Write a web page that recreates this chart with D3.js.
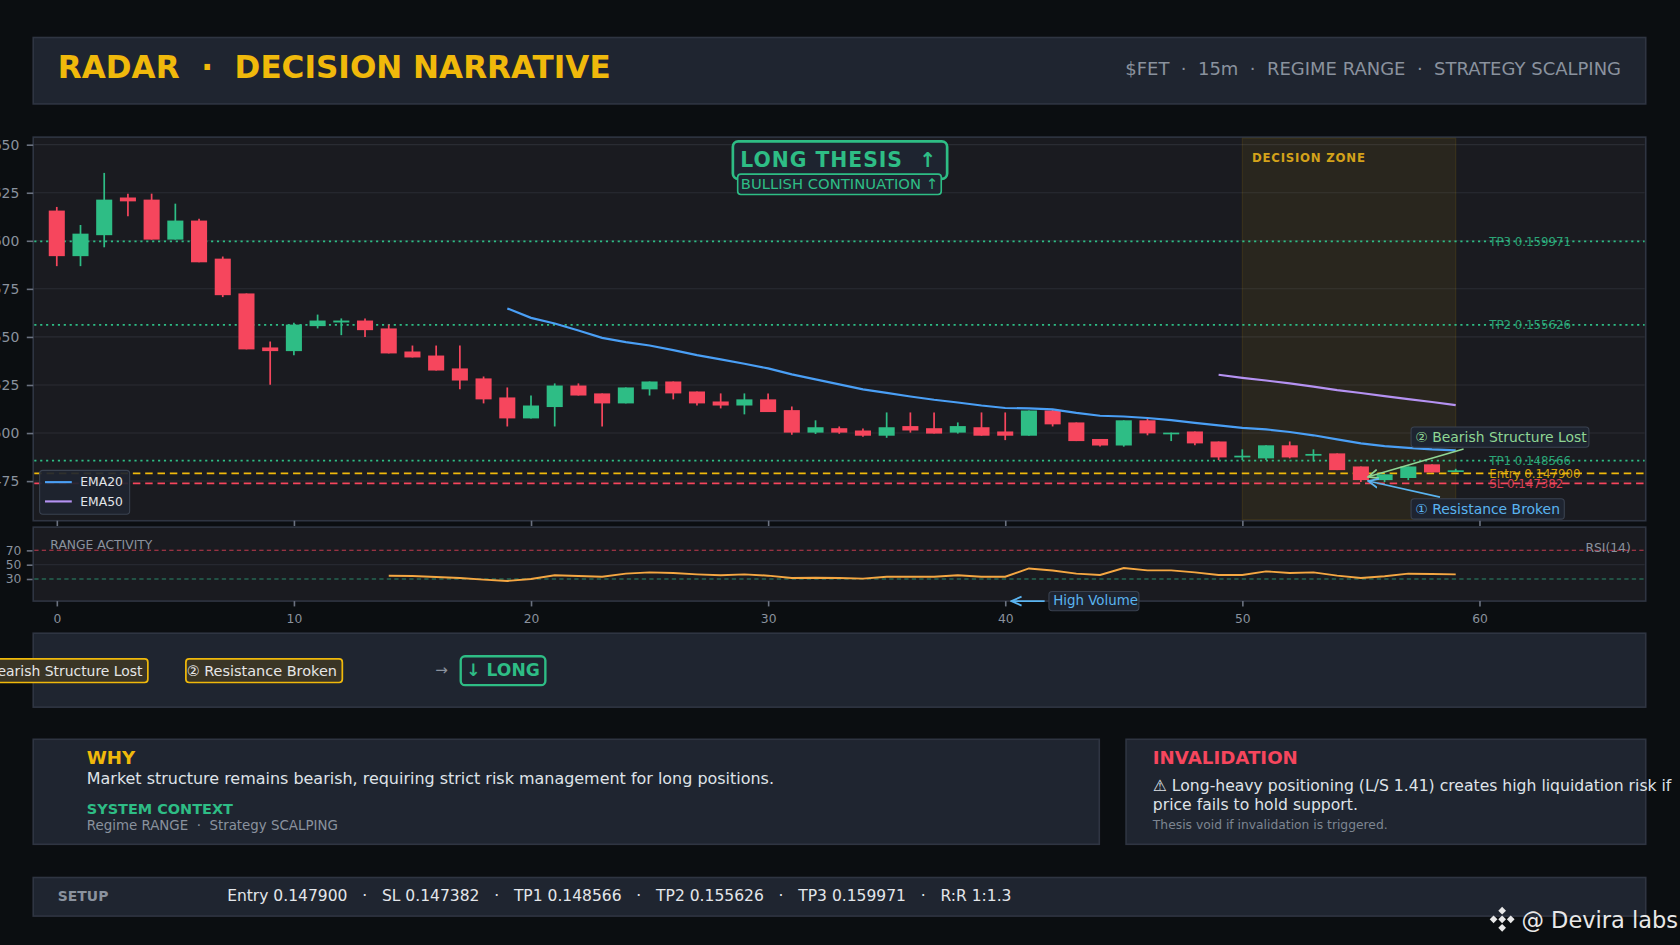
<!DOCTYPE html>
<html>
<head>
<meta charset="utf-8">
<script src="https://cdn.jsdelivr.net/npm/d3@7"></script>
<style>
html, body { margin: 0; padding: 0; background: #0b0e11; overflow: hidden; }
svg { display: block; font-family: "DejaVu Sans", sans-serif; }
text { white-space: pre; }
</style>
</head>
<body>
<svg id="chart" width="1680" height="945" viewBox="0 0 1568 882"></svg>
<script>
// Velas (indice 0..59)
const velaOpen  = [0.16157,0.15920,0.16029,0.16225,0.16214,0.16006,0.16105,0.15907,0.15726,0.15445,
                   0.15426,0.15556,0.15575,0.15585,0.15544,0.15424,0.15403,0.15336,0.15284,0.15185,
                   0.15076,0.15135,0.15247,0.15206,0.15154,0.15227,0.15268,0.15216,0.15164,0.15143,
                   0.15175,0.15119,0.15002,0.15025,0.15013,0.14986,0.15036,0.15025,0.15002,0.15030,
                   0.15008,0.14986,0.15117,0.15055,0.14969,0.14935,0.15066,0.14995,0.15008,0.14956,
                   0.14878,0.14868,0.14936,0.14885,0.14894,0.14826,0.14755,0.14766,0.14837,0.14799];
const velaHigh  = [0.16176,0.16082,0.16353,0.16245,0.16245,0.16193,0.16115,0.15918,0.15726,0.15476,
                   0.15573,0.15616,0.15596,0.15596,0.15564,0.15455,0.15455,0.15455,0.15294,0.15237,
                   0.15195,0.15258,0.15258,0.15206,0.15237,0.15268,0.15268,0.15216,0.15206,0.15206,
                   0.15206,0.15138,0.15066,0.15034,0.15024,0.15107,0.15107,0.15107,0.15055,0.15107,
                   0.15107,0.15117,0.15125,0.15055,0.14969,0.15066,0.15076,0.15002,0.15008,0.14956,
                   0.14915,0.14936,0.14956,0.14915,0.14894,0.14826,0.14785,0.14826,0.14837,0.14814];
const velaLow   = [0.15868,0.15868,0.15966,0.16128,0.16006,0.16006,0.15888,0.15707,0.15435,0.15251,
                   0.15405,0.15544,0.15509,0.15499,0.15414,0.15393,0.15325,0.15227,0.15154,0.15034,
                   0.15076,0.15034,0.15195,0.15034,0.15154,0.15195,0.15175,0.15143,0.15128,0.15097,
                   0.15109,0.14991,0.14995,0.14996,0.14980,0.14975,0.15002,0.14997,0.14997,0.14986,
                   0.14963,0.14986,0.15034,0.14958,0.14930,0.14929,0.14988,0.14958,0.14936,0.14859,
                   0.14859,0.14859,0.14868,0.14852,0.14807,0.14745,0.14745,0.14755,0.14795,0.14799];
const velaClose = [0.15920,0.16037,0.16214,0.16205,0.16006,0.16105,0.15888,0.15717,0.15435,0.15426,
                   0.15564,0.15585,0.15585,0.15535,0.15414,0.15393,0.15325,0.15273,0.15175,0.15076,
                   0.15143,0.15247,0.15195,0.15154,0.15237,0.15268,0.15206,0.15154,0.15143,0.15175,
                   0.15109,0.15002,0.15030,0.15002,0.14986,0.15030,0.15013,0.14997,0.15036,0.14986,
                   0.14986,0.15117,0.15045,0.14958,0.14935,0.15066,0.14998,0.15002,0.14946,0.14873,
                   0.14882,0.14936,0.14873,0.14891,0.14807,0.14755,0.14785,0.14826,0.14795,0.14806];

// Medias moviles
const ema20Inicio = 19;
const ema20 = [0.15648,0.15599,0.15570,0.15533,0.15495,0.15473,0.15455,0.15431,0.15405,0.15383,
               0.15360,0.15336,0.15305,0.15279,0.15253,0.15227,0.15209,0.15190,0.15173,0.15159,
               0.15143,0.15130,0.15128,0.15123,0.15105,0.15090,0.15086,0.15078,0.15067,0.15053,
               0.15040,0.15027,0.15019,0.15005,0.14988,0.14967,0.14946,0.14932,0.14923,0.14915,0.14910];
const ema50Inicio = 49;
const ema50 = [0.15303,0.15287,0.15273,0.15258,0.15241,0.15223,0.15208,0.15192,0.15176,0.15161,0.15145];

// RSI(14)
const rsiInicio = 14;
const rsi = [34.6,34.1,32.8,31.4,29.1,27.2,30.0,35.1,34.1,33.2,37.4,39.2,38.3,36.4,35.1,36.4,
             34.6,31.4,31.8,31.4,30.5,33.2,33.2,33.2,35.1,33.2,33.2,44.7,41.8,37.4,35.5,45.2,
             42.0,42.0,39.2,35.5,35.5,40.6,38.3,39.2,34.6,31.4,33.7,37.4,36.9,36.4];

// Ticks
const precioTicks = [0.1475,0.1500,0.1525,0.1550,0.1575,0.1600,0.1625,0.1650];
const rsiTicks = [30,50,70];
const xTicks = [0,10,20,30,40,50,60];

// Niveles del setup
const nivelNombres = ['TP3','TP2','TP1','Entry','SL'];
const nivelValores = [0.159971,0.155626,0.148566,0.147900,0.147382];
const zonaDecision = [50,59];

const verde = '#2ebd85', rojo = '#f6465d', amarillo = '#f0b90b', azul = '#4a9ff5',
      morado = '#b592f2', gris = '#8a929e', panel = '#1f2530', borde = '#2f3542';

const svg = d3.select('#chart');
svg.append('rect').attr('width',1568).attr('height',882).attr('fill','#0b0e11');

const defs = svg.append('defs');
[['flechaVerde','#8fd694'],['flechaAzul','#5ab4f0']].forEach(([id,col]) => {
    defs.append('marker').attr('id',id).attr('viewBox','0 0 10 10').attr('refX',9).attr('refY',5)
        .attr('markerWidth',7).attr('markerHeight',7).attr('orient','auto-start-reverse')
        .append('path').attr('d','M0,1 L9,5 L0,9').attr('fill','none').attr('stroke',col).attr('stroke-width',1.6);
});

// Encabezado
svg.append('rect').attr('x',31).attr('y',35).attr('width',1505).attr('height',62)
    .attr('fill',panel).attr('stroke',borde).attr('stroke-width',1.5);
svg.append('text').attr('x',54).attr('y',73).attr('fill',amarillo).attr('font-size',29)
    .attr('font-weight','bold').text('RADAR  \u00b7  DECISION NARRATIVE');
svg.append('text').attr('x',1513).attr('y',70).attr('fill',gris).attr('font-size',16.8)
    .attr('text-anchor','end').text('$FET  \u00b7  15m  \u00b7  REGIME RANGE  \u00b7  STRATEGY SCALPING');

// Escalas
const x = d3.scaleLinear().domain([0,60]).range([53,1380.8]);
const y = d3.scaleLinear().domain([0.1475,0.1650]).range([449,135]);
const yr = d3.scaleLinear().domain([0,100]).range([560.4,493.6]);

// Panel principal
svg.append('rect').attr('x',31).attr('y',128).attr('width',1505).attr('height',358)
    .attr('fill','#1a1b20').attr('stroke',borde).attr('stroke-width',1.5);
svg.append('g').selectAll('line').data(precioTicks).join('line')
    .attr('x1',32).attr('x2',1535).attr('y1',d => y(d)).attr('y2',d => y(d))
    .attr('stroke','#2a2c33').attr('stroke-width',1);

// Zona de decision
svg.append('rect').attr('x',x(zonaDecision[0])).attr('y',129)
    .attr('width',x(zonaDecision[1]) - x(zonaDecision[0])).attr('height',356)
    .attr('fill','rgba(240,185,11,0.07)').attr('stroke','rgba(240,185,11,0.12)').attr('stroke-width',1);
svg.append('text').attr('x',x(zonaDecision[0]) + 9).attr('y',151).attr('fill','#d4a21a')
    .attr('font-size',11).attr('letter-spacing',0.7).attr('font-weight','bold').text('DECISION ZONE');

// Ejes
const ejeY = svg.append('g').attr('transform','translate(31,0)')
    .call(d3.axisLeft(y).tickValues(precioTicks).tickFormat(d3.format('.4f')).tickSize(6).tickPadding(7));
const ejeR = svg.append('g').attr('transform','translate(31,0)')
    .call(d3.axisLeft(yr).tickValues(rsiTicks).tickSize(6).tickPadding(5));
const ejeX1 = svg.append('g').attr('transform','translate(0,486)')
    .call(d3.axisBottom(x).tickValues(xTicks).tickSize(5).tickFormat(''));
[ejeY, ejeR, ejeX1].forEach(g => {
    g.select('.domain').remove();
    g.selectAll('line').attr('stroke','#6b7280').attr('stroke-width',1.5);
    g.selectAll('text').attr('fill',gris).attr('font-size',13).attr('font-family','DejaVu Sans');
});
ejeR.selectAll('text').attr('font-size',11.5);

// Niveles
const estilos = {TP3:[verde,'2,3.5',1.5], TP2:[verde,'2,3.5',1.5], TP1:[verde,'2,3.5',1.5],
                 Entry:[amarillo,'7,4.5',1.6], SL:[rojo,'7,4.5',1.6]};
const niveles = svg.append('g');
nivelNombres.forEach((n,i) => {
    const v = nivelValores[i];
    niveles.append('line').attr('x1',32).attr('x2',1535).attr('y1',y(v)).attr('y2',y(v))
        .attr('stroke',estilos[n][0]).attr('stroke-dasharray',estilos[n][1]).attr('stroke-width',estilos[n][2]);
    niveles.append('text').attr('x',1390).attr('y',y(v) + 4).attr('fill',estilos[n][0]).attr('opacity',0.85)
        .attr('font-size',11).text(n + ' ' + v.toFixed(6));
});

// Velas
const idx = d3.range(velaOpen.length);
const velas = svg.append('g');
velas.selectAll('line').data(idx).join('line')
    .attr('x1',i => x(i)).attr('x2',i => x(i))
    .attr('y1',i => y(velaHigh[i])).attr('y2',i => y(velaLow[i]))
    .attr('stroke',i => velaClose[i] >= velaOpen[i] ? verde : rojo).attr('stroke-width',1.6);
velas.selectAll('rect').data(idx).join('rect')
    .attr('x',i => x(i) - 7.5).attr('width',15)
    .attr('y',i => y(Math.max(velaOpen[i],velaClose[i])))
    .attr('height',i => Math.max(1.6, y(Math.min(velaOpen[i],velaClose[i])) - y(Math.max(velaOpen[i],velaClose[i]))))
    .attr('fill',i => velaClose[i] >= velaOpen[i] ? verde : rojo);

// EMAs
const linea = d3.line().x(d => x(d[0])).y(d => y(d[1]));
svg.append('path').datum(ema20.map((v,i) => [ema20Inicio + i, v])).attr('d',linea)
    .attr('fill','none').attr('stroke',azul).attr('stroke-width',2);
svg.append('path').datum(ema50.map((v,i) => [ema50Inicio + i, v])).attr('d',linea)
    .attr('fill','none').attr('stroke',morado).attr('stroke-width',2);

// Leyenda
const ley = svg.append('g');
ley.append('rect').attr('x',37).attr('y',439).attr('width',84).attr('height',41).attr('rx',3)
    .attr('fill','#1e2430').attr('fill-opacity',0.92).attr('stroke','#3a4250');
[['EMA20',azul,450],['EMA50',morado,468]].forEach(([t,c,yy]) => {
    ley.append('line').attr('x1',42).attr('x2',67).attr('y1',yy).attr('y2',yy).attr('stroke',c).attr('stroke-width',2);
    ley.append('text').attr('x',75).attr('y',yy + 4).attr('fill','#e3e6ea').attr('font-size',11.5).text(t);
});

// Tesis
svg.append('rect').attr('x',684).attr('y',132).attr('width',200).attr('height',35).attr('rx',5)
    .attr('fill','#1e2430').attr('stroke',verde).attr('stroke-width',2.5);
svg.append('text').attr('x',691).attr('y',156).attr('fill',verde).attr('font-size',19)
    .attr('font-weight','bold').attr('letter-spacing',0.9).text('LONG THESIS  \u2191');
svg.append('rect').attr('x',688.5).attr('y',162.5).attr('width',190).attr('height',19).attr('rx',3)
    .attr('fill','#1e2430').attr('stroke',verde).attr('stroke-width',1.5);
svg.append('text').attr('x',783.5).attr('y',176).attr('fill',verde).attr('font-size',13.8)
    .attr('text-anchor','middle').text('BULLISH CONTINUATION \u2191');

// Anotaciones
function etiqueta(tx, ty, w, texto, color) {
    svg.append('rect').attr('x',tx).attr('y',ty).attr('width',w).attr('height',19).attr('rx',3)
        .attr('fill','#1e2430').attr('stroke','#3a4250');
    svg.append('text').attr('x',tx + 4).attr('y',ty + 14).attr('fill',color).attr('font-size',13).text(texto);
}
svg.append('line').attr('x1',1366).attr('y1',419).attr('x2',1277).attr('y2',445)
    .attr('stroke','#8fd694').attr('stroke-width',1.5).attr('marker-end','url(#flechaVerde)');
svg.append('line').attr('x1',1344).attr('y1',464).attr('x2',1277).attr('y2',449)
    .attr('stroke','#5ab4f0').attr('stroke-width',1.5).attr('marker-end','url(#flechaAzul)');
etiqueta(1317, 398.5, 166, '\u2461 Bearish Structure Lost', '#8fd694');
etiqueta(1317, 465.5, 143, '\u2460 Resistance Broken', '#5ab4f0');

// Panel RSI
svg.append('rect').attr('x',31).attr('y',492).attr('width',1505).attr('height',69)
    .attr('fill','#1a1b20').attr('stroke',borde).attr('stroke-width',1.5);
svg.append('line').attr('x1',32).attr('x2',1535).attr('y1',yr(50)).attr('y2',yr(50)).attr('stroke','#262830');
svg.append('line').attr('x1',32).attr('x2',1535).attr('y1',yr(70)).attr('y2',yr(70))
    .attr('stroke','#c23b4e').attr('stroke-dasharray','4,3').attr('stroke-width',1);
svg.append('line').attr('x1',32).attr('x2',1535).attr('y1',yr(30)).attr('y2',yr(30))
    .attr('stroke','#2a8a6a').attr('stroke-dasharray','4,3').attr('stroke-width',1);
svg.append('text').attr('x',47).attr('y',512).attr('fill',gris).attr('font-size',11.5).text('RANGE ACTIVITY');
svg.append('text').attr('x',1522).attr('y',515).attr('fill',gris).attr('font-size',11.5)
    .attr('text-anchor','end').text('RSI(14)');
svg.append('path').datum(rsi.map((v,i) => [rsiInicio + i, v]))
    .attr('d',d3.line().x(d => x(d[0])).y(d => yr(d[1])))
    .attr('fill','none').attr('stroke','#f5a742').attr('stroke-width',1.8);
svg.append('line').attr('x1',975).attr('y1',561).attr('x2',944).attr('y2',561)
    .attr('stroke','#5ab4f0').attr('stroke-width',1.5).attr('marker-end','url(#flechaAzul)');
svg.append('rect').attr('x',979).attr('y',552).attr('width',84).attr('height',18).attr('rx',3)
    .attr('fill','#1e2430').attr('stroke','#3a4250');
svg.append('text').attr('x',983).attr('y',565).attr('fill','#5ab4f0').attr('font-size',12.5).text('High Volume');

const ejeX = svg.append('g').attr('transform','translate(0,561)')
    .call(d3.axisBottom(x).tickValues(xTicks).tickSize(5).tickPadding(7));
ejeX.select('.domain').remove();
ejeX.selectAll('line').attr('stroke','#6b7280').attr('stroke-width',1.5);
ejeX.selectAll('text').attr('fill',gris).attr('font-size',11.5).attr('font-family','DejaVu Sans');

// Narrativa
svg.append('rect').attr('x',31).attr('y',591).attr('width',1505).attr('height',69)
    .attr('fill',panel).attr('stroke',borde).attr('stroke-width',1.5);
const chips = [['\u2460 Bearish Structure Lost', -42, 180, 13], ['\u2461 Resistance Broken', 173.5, 146, 13.5]];
chips.forEach(([t,cx,w,fs]) => {
    svg.append('rect').attr('x',cx).attr('y',615).attr('width',w).attr('height',22).attr('rx',3)
        .attr('fill','#3a3526').attr('stroke',amarillo).attr('stroke-width',1.6);
    svg.append('text').attr('x',cx + w - 5).attr('y',631).attr('fill','#e6e6e6').attr('font-size',fs)
        .attr('text-anchor','end').text(t);
});
svg.append('text').attr('x',412).attr('y',630).attr('fill',gris).attr('font-size',14)
    .attr('text-anchor','middle').text('\u2192');
svg.append('rect').attr('x',430).attr('y',612.5).attr('width',79).attr('height',27).attr('rx',4)
    .attr('fill','#1e2430').attr('stroke',verde).attr('stroke-width',2.2);
svg.append('text').attr('x',469.5).attr('y',631).attr('fill',verde).attr('font-size',16)
    .attr('font-weight','bold').attr('text-anchor','middle').text('\u2193 LONG');

// WHY
svg.append('rect').attr('x',31).attr('y',690).attr('width',995).attr('height',98)
    .attr('fill',panel).attr('stroke',borde).attr('stroke-width',1.5);
svg.append('text').attr('x',81).attr('y',713).attr('fill',amarillo).attr('font-size',17)
    .attr('font-weight','bold').text('WHY');
svg.append('text').attr('x',81).attr('y',732).attr('fill','#dfe3e8').attr('font-size',14.9)
    .text('Market structure remains bearish, requiring strict risk management for long positions.');
svg.append('text').attr('x',81).attr('y',760).attr('fill',verde).attr('font-size',13.5)
    .attr('font-weight','bold').text('SYSTEM CONTEXT');
svg.append('text').attr('x',81).attr('y',775).attr('fill',gris).attr('font-size',12.5)
    .text('Regime RANGE  \u00b7  Strategy SCALPING');

// INVALIDATION
svg.append('rect').attr('x',1051).attr('y',690).attr('width',485).attr('height',98)
    .attr('fill',panel).attr('stroke',borde).attr('stroke-width',1.5);
svg.append('text').attr('x',1076).attr('y',713).attr('fill',rojo).attr('font-size',17)
    .attr('font-weight','bold').text('INVALIDATION');
svg.append('text').attr('x',1076).attr('y',738).attr('fill','#dfe3e8').attr('font-size',14.6)
    .text('\u26a0 Long-heavy positioning (L/S 1.41) creates high liquidation risk if');
svg.append('text').attr('x',1076).attr('y',756).attr('fill','#dfe3e8').attr('font-size',14.6)
    .text('price fails to hold support.');
svg.append('text').attr('x',1076).attr('y',774).attr('fill','#7d8591').attr('font-size',11.5)
    .text('Thesis void if invalidation is triggered.');

// SETUP
svg.append('rect').attr('x',31).attr('y',819).attr('width',1505).attr('height',36)
    .attr('fill',panel).attr('stroke',borde).attr('stroke-width',1.5);
svg.append('text').attr('x',54).attr('y',841).attr('fill',gris).attr('font-size',13)
    .attr('font-weight','bold').text('SETUP');
const ordenSetup = ['Entry','SL','TP1','TP2','TP3'].map(n => n + ' ' + nivelValores[nivelNombres.indexOf(n)].toFixed(6));
svg.append('text').attr('x',212).attr('y',841).attr('fill','#e3e6ea').attr('font-size',14.5)
    .text(ordenSetup.concat(['R:R 1:1.3']).join('   \u00b7   '));

// Marca de agua
const logo = svg.append('g').attr('transform','translate(1402,858)').attr('fill','#e8e8e8');
[[0,-8,3.6],[-8,0,3.6],[8,0,3.6],[0,8,3.6],[0,0,3.6]].forEach(([dx,dy,r]) => {
    logo.append('path').attr('d',`M${dx},${dy - r}L${dx + r},${dy}L${dx},${dy + r}L${dx - r},${dy}Z`);
});
svg.append('text').attr('x',1420).attr('y',866).attr('fill','#e8e8e8').attr('font-size',21)
    .text('@ Devira labs');
</script>
</body>
</html>
